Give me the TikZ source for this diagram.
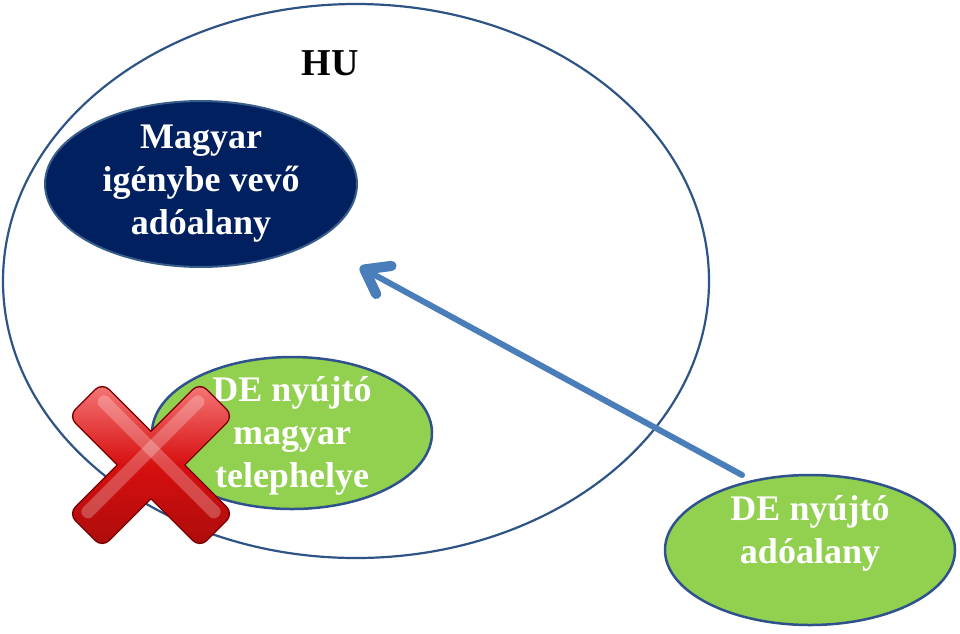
\documentclass[tikz,border=0pt]{standalone}
\usepackage{fontspec}
\setmainfont{Liberation Serif}
\usetikzlibrary{shapes.geometric,arrows.meta}
\definecolor{navyfill}{RGB}{0,32,96}
\definecolor{navyline}{RGB}{56,93,138}
\definecolor{bigline}{RGB}{46,84,134}
\definecolor{greenfill}{RGB}{146,208,80}
\definecolor{greenline}{RGB}{47,82,143}
\definecolor{arrowblue}{RGB}{74,126,187}
\definecolor{xred}{RGB}{215,15,15}
\definecolor{xdark}{RGB}{120,0,0}
\definecolor{xlight}{RGB}{245,120,120}
\begin{document}
\begin{tikzpicture}[x=1pt,y=-1pt,
  txt/.style={font=\bfseries\fontsize{36}{43}\selectfont, align=center, text=white},
  oval/.style={ellipse, inner sep=0pt},
  arr/.style={draw=arrowblue, line width=6pt, line cap=round,
    -{Straight Barb[length=22pt,width=32pt,line width=0pt 1.7,line cap=round,line join=round]}}]
\useasboundingbox (0,0) rectangle (960,633);
% big HU ellipse
\node[oval, draw=bigline, line width=2.2pt, minimum width=706pt, minimum height=554pt] (hu) at (356,281) {};
\node[font=\bfseries\fontsize{38}{44}\selectfont] (hulabel) at (330,63) {HU};
% Hungarian recipient
\node[oval, fill=navyfill, draw=navyline, line width=2pt, minimum width=312pt, minimum height=162pt, txt] (mv) at (201,184) {Magyar\\igénybe vevő\\adóalany};
% DE establishment in HU
\node[oval, fill=greenfill, draw=greenline, line width=2.5pt, minimum width=280pt, minimum height=152pt] (tel) at (292,433) {};
\node[txt] (teltext) at (292,436) {DE nyújtó\\magyar\\telephelye};
% DE supplier
\node[oval, fill=greenfill, draw=greenline, line width=2.5pt, minimum width=290pt, minimum height=150pt] (de) at (810,550) {};
\node[txt] (detext) at (810,533) {DE nyújtó\\adóalany};
% arrow
\coordinate (as) at (742,475);
\coordinate (ae) at (360,267);
\draw[arr] (as) -- (ae);
% red cross
\begin{scope}[shift={(151,465)}]
  \foreach \a in {45,-45}{
    \draw[xdark, line width=3pt, rotate=\a, rounded corners=9pt] (-92,-23) rectangle (92,23);
  }
  \foreach \a in {45,-45}{
    \shade[rotate=\a, rounded corners=9pt, top color=xlight, bottom color=xred!80!black, middle color=xred] (-92,-23) rectangle (92,23);
  }
  \foreach \a in {45,-45}{
    \fill[white, opacity=0.25, rotate=\a, rounded corners=6pt] (-84,-18) rectangle (84,-5);
  }
\end{scope}
\end{tikzpicture}
\end{document}
